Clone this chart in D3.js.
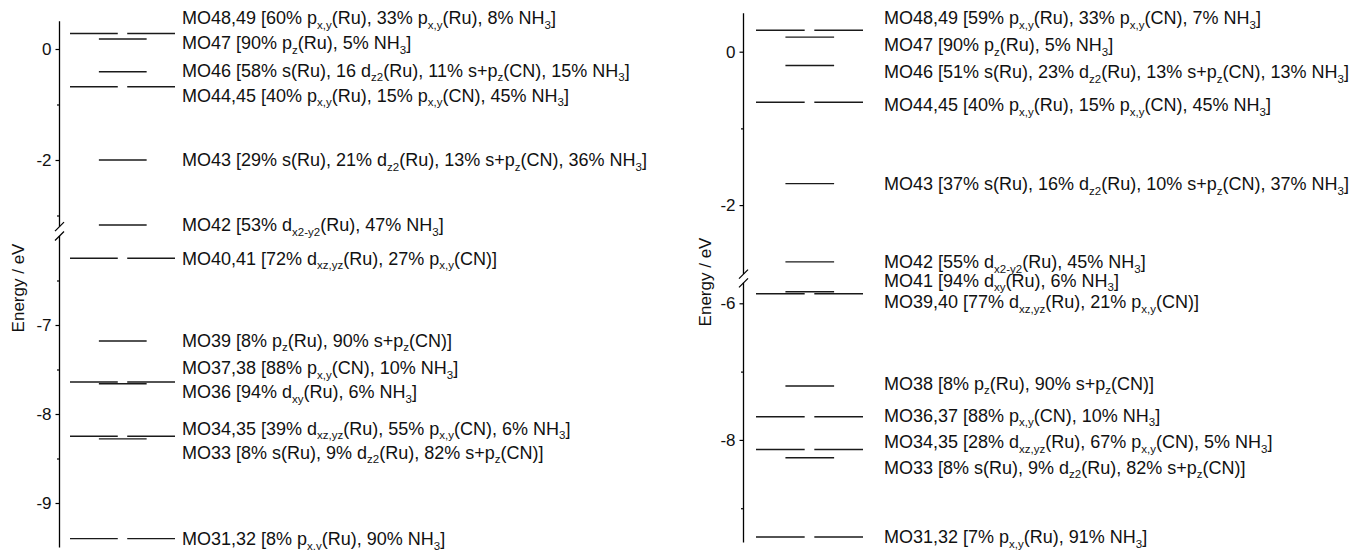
<!DOCTYPE html>
<html>
<head>
<meta charset="utf-8">
<script src="https://cdn.jsdelivr.net/npm/d3@7"></script>
<style>
  body { margin: 0; background: #fff; }
  svg { font-family: "Liberation Sans", Arial, sans-serif; }
</style>
</head>
<body>
<div id="chart"></div>
<script>
// ---- data: left complex ----
var leftE = [0.28, 0.18, -0.41, -0.68, -2.0, -3.17, -6.25, -7.18, -7.64, -7.66, -8.25, -8.28, -9.40];
var leftPair = [1, 0, 0, 1, 0, 0, 1, 0, 1, 0, 1, 0, 1];
var leftLabelE = [0.56, 0.11, -0.38, -0.83, -2.0, -3.17, -6.25, -7.17, -7.48, -7.75, -8.16, -8.43, -9.40];
var leftLabels = [
  "MO48,49 [60% p_{x,y}(Ru), 33% p_{x,y}(Ru), 8% NH_{3}]",
  "MO47 [90% p_{z}(Ru), 5% NH_{3}]",
  "MO46 [58% s(Ru), 16 d_{z2}(Ru), 11% s+p_{z}(CN), 15% NH_{3}]",
  "MO44,45 [40% p_{x,y}(Ru), 15% p_{x,y}(CN), 45% NH_{3}]",
  "MO43 [29% s(Ru), 21% d_{z2}(Ru), 13% s+p_{z}(CN), 36% NH_{3}]",
  "MO42 [53% d_{x2-y2}(Ru), 47% NH_{3}]",
  "MO40,41 [72% d_{xz,yz}(Ru), 27% p_{x,y}(CN)]",
  "MO39 [8% p_{z}(Ru), 90% s+p_{z}(CN)]",
  "MO37,38 [88% p_{x,y}(CN), 10% NH_{3}]",
  "MO36 [94% d_{xy}(Ru), 6% NH_{3}]",
  "MO34,35 [39% d_{xz,yz}(Ru), 55% p_{x,y}(CN), 6% NH_{3}]",
  "MO33 [8% s(Ru), 9% d_{z2}(Ru), 82% s+p_{z}(CN)]",
  "MO31,32 [8% p_{x,y}(Ru), 90% NH_{3}]"
];
var leftTicksUp = [0, -2], leftMinorUp = [-1, -3];
var leftTicksLo = [-7, -8, -9], leftMinorLo = [-6.5, -7.5, -8.5];

// ---- data: right complex ----
var rightE = [0.28, 0.19, -0.18, -0.66, -1.72, -2.74, -5.83, -5.86, -7.21, -7.66, -8.14, -8.26, -9.42];
var rightPair = [1, 0, 0, 1, 0, 0, 0, 1, 0, 1, 1, 0, 1];
var rightLabelE = [0.44, 0.09, -0.26, -0.69, -1.72, -2.74, -5.66, -5.98, -7.17, -7.64, -8.03, -8.40, -9.42];
var rightLabels = [
  "MO48,49 [59% p_{x,y}(Ru), 33% p_{x,y}(CN), 7% NH_{3}]",
  "MO47 [90% p_{z}(Ru), 5% NH_{3}]",
  "MO46 [51% s(Ru), 23% d_{z2}(Ru), 13% s+p_{z}(CN), 13% NH_{3}]",
  "MO44,45 [40% p_{x,y}(Ru), 15% p_{x,y}(CN), 45% NH_{3}]",
  "MO43 [37% s(Ru), 16% d_{z2}(Ru), 10% s+p_{z}(CN), 37% NH_{3}]",
  "MO42 [55% d_{x2-y2}(Ru), 45% NH_{3}]",
  "MO41 [94% d_{xy}(Ru), 6% NH_{3}]",
  "MO39,40 [77% d_{xz,yz}(Ru), 21% p_{x,y}(CN)]",
  "MO38 [8% p_{z}(Ru), 90% s+p_{z}(CN)]",
  "MO36,37 [88% p_{x,y}(CN), 10% NH_{3}]",
  "MO34,35 [28% d_{xz,yz}(Ru), 67% p_{x,y}(CN), 5% NH_{3}]",
  "MO33 [8% s(Ru), 9% d_{z2}(Ru), 82% s+p_{z}(CN)]",
  "MO31,32 [7% p_{x,y}(Ru), 91% NH_{3}]"
];
var rightTicksUp = [0, -2], rightMinorUp = [-1];
var rightTicksLo = [-6, -8], rightMinorLo = [-7, -9];

var BREAK = -4;  // energies above go to the upper axis segment
var SUB = 4.5;   // subscript drop

var svg = d3.select("#chart").append("svg")
  .attr("width", 1359)
  .attr("height", 550);

// level slots in abstract units: pair = two halves, single = centred
var slots = {
  pair: [[0, 4.55], [5.45, 10]],
  single: [[2.75, 7.3]]
};

// "p_{x,y}" -> p with a subscript tspan
function richText(sel, str) {
  var re = /_\{([^}]*)\}/g, last = 0, m, down = false;
  while ((m = re.exec(str)) !== null) {
    if (m.index > last) {
      sel.append("tspan").attr("dy", down ? -SUB : null).text(str.slice(last, m.index));
      down = false;
    }
    sel.append("tspan").attr("dy", down ? null : SUB).attr("font-size", "11.5px").text(m[1]);
    down = true;
    last = re.lastIndex;
  }
  if (last < str.length) sel.append("tspan").attr("dy", down ? -SUB : null).text(str.slice(last));
}

function panel(cfg) {
  var g = svg.append("g");

  var yUp = d3.scaleLinear().domain(cfg.upDomain).range(cfg.upRange);
  var yLo = d3.scaleLinear().domain(cfg.loDomain).range(cfg.loRange);
  function yOf(e) { return e > BREAK ? yUp(e) : yLo(e); }

  var x = d3.scaleLinear().domain([0, 10]).range(cfg.xRange);

  var data = cfg.E.map(function(e, i) {
    return { e: e, pair: cfg.pair[i], label: cfg.labels[i], le: cfg.labelE[i] };
  });

  // axis segments
  function drawAxis(scale, major, minor) {
    var ax = g.append("g").attr("transform", "translate(" + cfg.axisX + ",0)");
    ax.call(d3.axisLeft(scale).tickValues(major).tickSize(4).tickSizeOuter(0).tickPadding(4)
      .tickFormat(function(d){ return String(d); }));
    ax.append("g").call(d3.axisLeft(scale).tickValues(minor).tickSize(2.5).tickSizeOuter(0).tickFormat(""));
    ax.selectAll("path.domain").remove();
    ax.append("line")
      .attr("x1", 0).attr("x2", 0)
      .attr("y1", scale.range()[0]).attr("y2", scale.range()[1])
      .attr("stroke", "#000").attr("stroke-width", 1.3);
    ax.selectAll(".tick line").attr("stroke", "#000").attr("stroke-width", 1.2);
    ax.selectAll(".tick text")
      .attr("font-size", "17px")
      .attr("font-family", "Liberation Sans, Arial, sans-serif")
      .attr("fill", "#111");
  }
  drawAxis(yUp, cfg.upTicks, cfg.upMinor);
  drawAxis(yLo, cfg.loTicks, cfg.loMinor);

  // break marks
  [yUp.range()[1], yLo.range()[0]].forEach(function(yb) {
    g.append("line")
      .attr("x1", cfg.axisX - 4.5).attr("y1", yb + 4.5)
      .attr("x2", cfg.axisX + 4.5).attr("y2", yb - 4.5)
      .attr("stroke", "#000").attr("stroke-width", 1.2);
  });

  // axis title
  g.append("text")
    .attr("transform", "translate(" + cfg.titleX + "," + cfg.titleY + ") rotate(-90)")
    .attr("text-anchor", "middle")
    .attr("font-size", "17px")
    .attr("fill", "#111")
    .text("Energy / eV");

  // levels
  data.forEach(function(d) {
    var s = d.pair ? slots.pair : slots.single;
    s.forEach(function(seg) {
      g.append("line")
        .attr("class", "level")
        .attr("x1", x(seg[0])).attr("x2", x(seg[1]))
        .attr("y1", yOf(d.e)).attr("y2", yOf(d.e))
        .attr("stroke", "#1a1a1a")
        .attr("stroke-width", 1.4);
    });
  });

  // labels
  data.forEach(function(d) {
    var t = g.append("text")
      .attr("x", cfg.textX)
      .attr("y", yOf(d.le))
      .attr("dy", "0.36em")
      .attr("font-size", "18px")
      .attr("fill", "#111");
    richText(t, d.label);
  });
}

panel({
  E: leftE, pair: leftPair, labels: leftLabels, labelE: leftLabelE,
  upDomain: [0.5, -3.2], upRange: [21.25, 226.6],
  loDomain: [-6.0, -9.5], loRange: [236, 547.5],
  upTicks: leftTicksUp, upMinor: leftMinorUp,
  loTicks: leftTicksLo, loMinor: leftMinorLo,
  axisX: 59.5, xRange: [70, 175], textX: 182,
  titleX: 24, titleY: 288
});

panel({
  E: rightE, pair: rightPair, labels: rightLabels, labelE: rightLabelE,
  upDomain: [0.5, -2.9], upRange: [13.35, 274.1],
  loDomain: [-5.7, -9.5], loRange: [282.8, 542.4],
  upTicks: rightTicksUp, upMinor: rightMinorUp,
  loTicks: rightTicksLo, loMinor: rightMinorLo,
  axisX: 743.5, xRange: [756, 863], textX: 884,
  titleX: 711, titleY: 282
});
</script>
</body>
</html>
